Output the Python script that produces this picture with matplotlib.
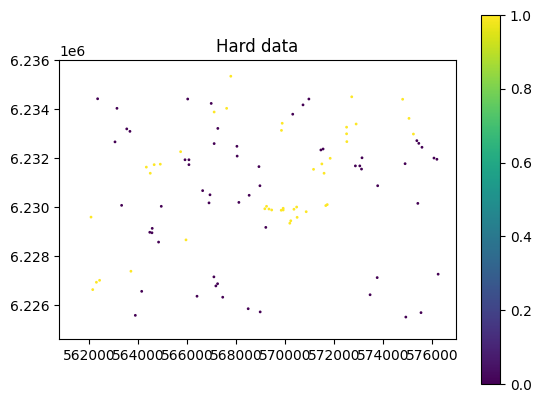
import matplotlib
matplotlib.use("Agg")
import numpy as np
import matplotlib.pyplot as plt

# hard data points: x, y, indicator value (0 or 1)
x0 = [562340, 563130, 563530, 563660, 563050, 566020, 566980, 567250, 567100, 568030,
      568040, 565910, 566070, 566070, 568930, 568970, 566630, 566930, 568530, 570970,
      570730, 570310, 575380, 575460, 575590, 571460, 571550, 573140, 572870, 573050,
      573120, 573780, 574900, 576080, 576200, 566890, 568110, 563320, 564940, 564570,
      564470, 564560, 564830, 569210, 564140, 563880, 567090, 567240, 567170, 566400,
      567450, 568490, 568980, 575420, 576250, 573760, 573470, 574930, 575550]
y0 = [6234430, 6234040, 6233200, 6233100, 6232670, 6234420, 6234240, 6233220, 6232600, 6232490,
      6232090, 6231940, 6231940, 6231740, 6231660, 6230880, 6230680, 6230510, 6230490, 6234420,
      6234180, 6233800, 6232720, 6232610, 6232450, 6232340, 6232380, 6232020, 6231690, 6231690,
      6231560, 6230880, 6231780, 6232010, 6231960, 6230180, 6230200, 6230080, 6230040, 6229140,
      6228980, 6228960, 6228580, 6229180, 6226570, 6225590, 6227160, 6226880, 6226790, 6226370,
      6226330, 6225860, 6225730, 6230160, 6227270, 6227130, 6226430, 6225520, 6225700]

x1 = [567780, 567100, 567610, 565730, 564330, 564650, 564900, 564490, 569880, 569850,
      572720, 572900, 572510, 572510, 572520, 574800, 575060, 575240, 571840, 571160,
      571500, 571590, 562070, 565950, 563700, 562420, 562290, 562140, 569170, 569240,
      569340, 569450, 569840, 569920, 569920, 570360, 570470, 570860, 571660, 571720,
      570190, 570230, 570490]
y1 = [6235350, 6233890, 6234040, 6232270, 6231640, 6231740, 6231760, 6231390, 6233430, 6233140,
      6234510, 6233400, 6233270, 6233000, 6232680, 6234410, 6233630, 6232990, 6232000, 6231550,
      6231770, 6231390, 6229600, 6228670, 6227390, 6227020, 6226940, 6226640, 6229940, 6230040,
      6229930, 6229890, 6229880, 6229960, 6229890, 6229920, 6230010, 6229820, 6230070, 6230110,
      6229350, 6229450, 6229590]

xs = np.array(x0 + x1)
ys = np.array(y0 + y1)
vals = np.array([0] * len(x0) + [1] * len(x1))

fig = plt.figure(figsize=(5.41, 4.03), dpi=100)
ax = fig.add_axes([0.1091, 0.1588, 0.7338, 0.6923])
cax = fig.add_axes([0.8891, 0.0471, 0.0351, 0.9156])

sc = ax.scatter(xs, ys, c=vals, cmap="viridis", s=1)
ax.set_xlim(560763, 576980)
ax.set_ylim(6224624, 6236012)
ax.set_title("Hard data")
fig.colorbar(sc, cax=cax)

fig.savefig("out.png", dpi=100)
